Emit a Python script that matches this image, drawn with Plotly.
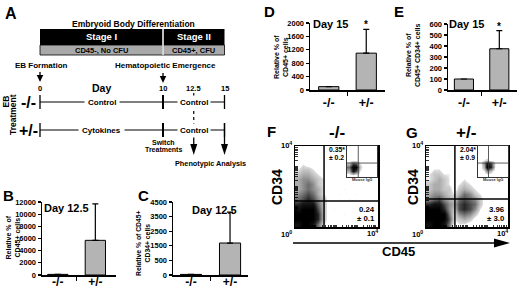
import numpy as np
import plotly.graph_objects as go

W, H = 520, 289
FONT = "Liberation Sans, Arial, sans-serif"


def fx(p):
    return p / W


def fy(p):
    return 1 - p / H


# ---------------- data ----------------
genotypes = ["-/-", "+/-"]

# B: Day 12.5, relative % of CD45+ cells (mean, top of error bar)
b_mean = [100, 5700]
b_top = [None, 11700]
b_ticks = [0, 2000, 4000, 6000, 8000, 10000, 12000]

# C: Day 12.5, relative % of CD45+ CD34+ cells (values on the printed, evenly spaced axis)
c_mean = [40, 2190]
c_top = [None, 4310]
c_tickvals = [0, 1000, 2000, 3000, 4000, 5000]
c_ticktext = ["0", "500", "1500", "2500", "3500", "4500"]

# D: Day 15, relative % of CD45+ cells
d_mean = [100, 1100]
d_top = [None, 1810]
d_ticks = [0, 400, 800, 1200, 1600, 2000]

# E: Day 15, relative % of CD45+ CD34+ cells
e_mean = [100, 375]
e_top = [None, 540]
e_ticks = [0, 100, 200, 300, 400, 500, 600]

# A: timeline
day_marks = [0, 10, 12.5, 15]
day_labels = ["0", "10", "12.5", "15"]
stages = ["Stage I", "Stage II"]
stage_start = [0, 10]
stage_end = [10, 15]
stage_phenotype = ["CD45-, No CFU", "CD45+, CFU"]
treat_rows = ["-/-", "+/-"]
treat_phase1 = ["Control", "Cytokines"]
treat_phase2 = ["Control", "Control"]

# F / G: flow cytometry dot density (CD45 on x, CD34 on y, 0.25-decade cells, top row first)
f_density = [
    "0000000000000000",
    "0000000000000000",
    "0000000000000000",
    "0100000000000000",
    "1221000000000000",
    "2332100000000000",
    "3443210000000000",
    "3454210000000000",
    "3454310001000000",
    "4565310010010000",
    "5676420000100000",
    "7888520000000000",
    "8999620100001000",
    "9999720001000000",
    "9999720000000100",
    "8998510000000000",
]
g_density = [
    "0000000000000000",
    "0000000000000000",
    "0000000000000000",
    "0000000000000000",
    "0110000000000000",
    "1221100000000000",
    "1232100100000000",
    "2332101210000000",
    "2332202321000000",
    "3443213542100000",
    "4564325654200000",
    "7886436765200000",
    "9997426764100000",
    "9999514542000000",
    "9999612320000000",
    "8998501100000000",
]
f_inset_density = [
    "00000000",
    "00000000",
    "00000000",
    "00000000",
    "26510000",
    "59920000",
    "38610000",
    "01000000",
]
g_inset_density = [
    "00000000",
    "00000000",
    "00000000",
    "01200000",
    "04861000",
    "03971000",
    "01420000",
    "00000000",
]
f_quadrant = (1.40, 1.28)
g_quadrant = (1.41, 1.38)
f_pct = ["0.35*", "± 0.2", "0.24", "± 0.1"]
g_pct = ["2.04*", "± 0.9", "3.96", "± 3.0"]

# ---------------- figure ----------------
fig = go.Figure()
layout = dict(
    width=W, height=H, margin=dict(l=0, r=0, t=0, b=0, pad=0), autosize=False,
    paper_bgcolor="white", plot_bgcolor="rgba(0,0,0,0)",
    template="none", showlegend=False,
    font=dict(family=FONT, color="black"),
)
shapes = []
annots = []


def txt(x, y, text, size, xref="paper", yref="paper", color="black", angle=0,
        xanchor="center", yanchor="middle", bg=None, pad=1):
    d = dict(x=x, y=y, xref=xref, yref=yref, text="<b>%s</b>" % text, showarrow=False,
             font=dict(family=FONT, size=size, color=color), textangle=angle,
             xanchor=xanchor, yanchor=yanchor, borderpad=pad)
    if bg:
        d["bgcolor"] = bg
    annots.append(d)


PX_PER_DAY = 12.3


def down_arrow(day, y_tail, y_tip, head_w, head_len, width=1.3):
    """Vertical arrow on the day axis (x in days, y in pixels from top)."""
    hw = head_w / 2 / PX_PER_DAY
    shapes.append(dict(type="line", xref="x", yref="paper", x0=day, x1=day,
                       y0=fy(y_tail), y1=fy(y_tip - head_len + 1), line=dict(color="black", width=width)))
    shapes.append(dict(type="path", xref="x", yref="paper", fillcolor="black", line=dict(width=0),
                       path="M %f,%f L %f,%f L %f,%f Z" % (day - hw, fy(y_tip - head_len), day + hw,
                                                           fy(y_tip - head_len), day, fy(y_tip))))


# ----- Panel A (day axis) -----
layout["xaxis"] = dict(domain=[fx(40 - 3 * PX_PER_DAY), fx(40 + 17 * PX_PER_DAY)], range=[-3, 17],
                       visible=False, fixedrange=True)
layout["yaxis"] = dict(domain=[0, 1], range=[0, 1], visible=False, fixedrange=True)
fig.add_trace(go.Scatter(x=day_marks, y=[None] * 4, xaxis="x", yaxis="y", hoverinfo="skip"))

txt(fx(3), fy(3), "A", 16, xanchor="left", yanchor="top")
txt(fx(133), fy(23.5), "Embryoid Body Differentiation", 8.5)
for s, a, b, ph in zip(stages, stage_start, stage_end, stage_phenotype):
    shapes.append(dict(type="rect", xref="x", yref="paper", x0=a, x1=b, y0=fy(45), y1=fy(29),
                       fillcolor="black", line=dict(width=0)))
    shapes.append(dict(type="rect", xref="x", yref="paper", x0=a, x1=b, y0=fy(55), y1=fy(45),
                       fillcolor="#a9a9a9", line=dict(color="black", width=0.8)))
    txt((a + b) / 2, fy(37), s, 9.5, xref="x", color="white")
    txt((a + b) / 2, fy(50.3), ph, 7.5, xref="x")
shapes.append(dict(type="line", xref="x", yref="paper", x0=stage_end[0], x1=stage_end[0],
                   y0=fy(55), y1=fy(29), line=dict(color="white", width=1.5)))

txt(0.1, fy(65), "EB Formation", 8, xref="x")
txt(10.2, fy(65), "Hematopoietic Emergence", 8, xref="x")
down_arrow(day_marks[0], 72, 82, 6.5, 7)
down_arrow(day_marks[1], 73, 83, 6.5, 7)
for dm, dl in zip(day_marks, day_labels):
    txt(dm, fy(88), dl, 7.5, xref="x")
txt(5, fy(88), "Day", 10.5, xref="x")

row_y = [102, 130]
shapes.append(dict(type="line", xref="x", yref="paper", x0=day_marks[2], x1=day_marks[2],
                   y0=fy(93), y1=fy(128), line=dict(color="black", width=1.2, dash="dot")))
for ry, lab, p1, p2 in zip(row_y, treat_rows, treat_phase1, treat_phase2):
    shapes.append(dict(type="line", xref="x", yref="paper", x0=day_marks[0], x1=day_marks[3],
                       y0=fy(ry), y1=fy(ry), line=dict(color="black", width=1)))
    for dm, wd in [(day_marks[0], 1.3), (day_marks[1], 2), (day_marks[3], 1.3)]:
        shapes.append(dict(type="line", xref="x", yref="paper", x0=dm, x1=dm,
                           y0=fy(ry + 7), y1=fy(ry - 7), line=dict(color="black", width=wd)))
    txt(fx(28), fy(ry), lab, 16)
    txt((day_marks[0] + day_marks[1]) / 2, fy(ry), p1, 8, xref="x", bg="white", pad=3)
    txt((day_marks[1] + day_marks[3]) / 2, fy(ry), p2, 8, xref="x", bg="white", pad=2)

down_arrow(day_marks[2], row_y[1], 155, 7, 11)
down_arrow(day_marks[3], row_y[1] - 7, 155, 7, 11)
txt(fx(5.5), fy(102), "EB", 8.5, angle=-90)
txt(fx(13), fy(115), "Treatment", 8.5, angle=-90)
txt(day_marks[1], fy(142.5), "Switch", 7, xref="x")
txt(day_marks[1], fy(149.5), "Treatments", 7, xref="x")
txt(13.9, fy(163), "Phenotypic Analysis", 7.3, xref="x")


# ----- Bar panels -----
def bar_panel(n, xpx, ypx, xr, yr, tickvals, ticktext, mean, top, title, day, day_xy,
              letter, letter_xy, title_xy, title_size=7, star=False, standoff=0, catsize=12.5):
    xa, ya = "x%d" % n, "y%d" % n
    err = [np.nan if t is None else t - m for m, t in zip(mean, top)]
    fig.add_trace(go.Bar(
        x=[0, 1], y=mean, width=0.54, xaxis=xa, yaxis=ya,
        marker=dict(color="#b4b4b4", line=dict(color="black", width=1)),
        error_y=dict(type="data", symmetric=False, array=err, arrayminus=[0, 0],
                     color="black", thickness=1.2, width=3),
    ))
    layout["xaxis%d" % n] = dict(
        domain=[fx(xpx[0]), fx(xpx[1])], range=xr, anchor=ya, tickvals=[0, 1], ticktext=genotypes,
        showline=True, linecolor="black", linewidth=1.5, ticks="", showgrid=False, zeroline=False,
        tickfont=dict(family=FONT, size=catsize, weight="bold", color="black"), ticklabelstandoff=standoff,
        minor=dict(tickvals=[0.5], ticks="outside", ticklen=4, tickwidth=1.2, tickcolor="black"),
        fixedrange=True)
    layout["yaxis%d" % n] = dict(
        domain=[fy(ypx[1]), fy(ypx[0])], range=yr, anchor=xa, tickvals=tickvals, ticktext=ticktext,
        showline=True, linecolor="black", linewidth=1.5, ticks="outside", ticklen=3, tickwidth=1.2,
        tickcolor="black", showgrid=False, zeroline=False,
        tickfont=dict(family=FONT, size=7.5, weight="bold", color="black"), fixedrange=True)
    txt(fx(title_xy[0]), fy(title_xy[1]), title, title_size, angle=-90)
    txt(fx(day_xy[0]), fy(day_xy[1]), day, 11)
    txt(fx(letter_xy[0]), fy(letter_xy[1]), letter, 15, xanchor="left", yanchor="top")
    if star:
        annots.append(dict(x=1, y=top[1], xref=xa, yref=ya, text="<b>*</b>", showarrow=False,
                           font=dict(family=FONT, size=10, color="black"), yanchor="bottom", yshift=-3))


bar_panel(2, (42, 116), (202, 275), [-0.42, 1.55], [0, 12000], b_ticks, [str(t) for t in b_ticks],
          b_mean, b_top, "Relative % of<br>CD45+ cells", "Day 12.5", (66, 208), "B", (1, 185), (12.5, 238),
          standoff=-5, catsize=12)
bar_panel(3, (173, 248), (202, 275), [-0.46, 1.46], [0, 5000], c_tickvals, c_ticktext,
          c_mean, c_top, "Relative % of CD45+<br>CD34+ cells", "Day 12.5", (214, 210), "C", (136, 185),
          (143, 243), title_size=6.8, standoff=-5, catsize=12)
bar_panel(4, (310, 385), (23, 90), [-0.5, 1.5], [0, 2000], d_ticks, [str(t) for t in d_ticks],
          d_mean, d_top, "Relative % of<br>CD45+ cells", "Day 15", (330, 24), "D", (262, 1), (281, 57),
          star=True)
bar_panel(5, (448, 517), (24, 90), [-0.45, 1.5], [0, 600], e_ticks, [str(t) for t in e_ticks],
          e_mean, e_top, "Relative % of<br>CD45+ CD34+ cells", "Day 15", (466, 24), "E", (392, 1),
          (413, 55), star=True)

# ----- Flow panels -----
dens_cs = [[0, "rgba(255,255,255,0)"], [0.08, "rgba(255,255,255,0)"], [0.13, "#dcdcdc"],
           [0.35, "#a8a8a8"], [0.6, "#606060"], [0.8, "#202020"], [1, "#000000"]]
minor_log = [d + np.log10(k) for d in range(4) for k in range(1, 10)] + [4]


def grid(rows):
    return [[int(c) for c in r] for r in rows[::-1]]


def flow_panel(n, xpx, ypx, dens, quad, pct, title, letter, letter_xy, title_x, cd34_x, right_px):
    xa, ya = "x%d" % n, "y%d" % n
    z = grid(dens)
    centers = [0.125 + 0.25 * i for i in range(16)]
    fig.add_trace(go.Heatmap(z=z, x=centers, y=centers, xaxis=xa, yaxis=ya, colorscale=dens_cs,
                             zmin=0, zmax=9, zsmooth="best", showscale=False, hoverinfo="skip"))
    common = dict(range=[0, 4], showline=True, mirror=True, linecolor="black", linewidth=1.5,
                  showgrid=False, zeroline=False, showticklabels=False, ticks="inside",
                  tickvals=minor_log, ticklen=2.5, tickwidth=0.8, tickcolor="black", fixedrange=True)
    layout["xaxis%d" % n] = dict(domain=[fx(xpx[0]), fx(xpx[1])], anchor=ya, **common)
    layout["yaxis%d" % n] = dict(domain=[fy(ypx[1]), fy(ypx[0])], anchor=xa, **common)
    shapes.append(dict(type="line", xref=xa, yref=ya, x0=quad[0], x1=quad[0], y0=0, y1=4,
                       line=dict(color="black", width=1.5)))
    shapes.append(dict(type="line", xref=xa, yref=ya, x0=0, x1=4, y0=quad[1], y1=quad[1],
                       line=dict(color="black", width=1.5)))
    qx = xpx[0] + (xpx[1] - xpx[0]) * quad[0] / 4 + 3
    txt(fx(qx), fy(149), pct[0], 6.8, xanchor="left")
    txt(fx(qx), fy(157), pct[1], 6.8, xanchor="left")
    txt(fx(right_px), fy(209), pct[2], 7.8, xanchor="right")
    txt(fx(right_px), fy(218.5), pct[3], 7.8, xanchor="right")
    txt(fx(title_x), fy(133), title, 17)
    txt(fx(letter_xy[0]), fy(letter_xy[1]), letter, 15, xanchor="left", yanchor="top")
    txt(fx(cd34_x), fy(187), "CD34", 14, angle=-90)
    txt(fx(xpx[0] - 1), fy(145), "10<sup>4</sup>", 7.5, xanchor="right")
    txt(fx(xpx[0] - 1), fy(234), "10<sup>0</sup>", 7.5, xanchor="right")
    txt(fx(xpx[1] + 2), fy(233), "10<sup>4</sup>", 7.5, xanchor="right")


def inset(n, xpx, ypx, dens, quad):
    xa, ya = "x%d" % n, "y%d" % n
    z = grid(dens)
    centers = [0.25 + 0.5 * i for i in range(8)]
    fig.add_trace(go.Heatmap(z=z, x=centers, y=centers, xaxis=xa, yaxis=ya, colorscale=dens_cs,
                             zmin=0, zmax=9, zsmooth="best", showscale=False, hoverinfo="skip"))
    common = dict(range=[0, 4], showline=True, mirror=True, linecolor="#333333", linewidth=1,
                  showgrid=False, zeroline=False, showticklabels=False, ticks="", fixedrange=True)
    layout["xaxis%d" % n] = dict(domain=[fx(xpx[0]), fx(xpx[1])], anchor=ya, **common)
    layout["yaxis%d" % n] = dict(domain=[fy(ypx[1]), fy(ypx[0])], anchor=xa, **common)
    shapes.append(dict(type="line", xref=xa, yref=ya, x0=quad[0], x1=quad[0], y0=0, y1=4,
                       line=dict(color="#333333", width=0.8)))
    shapes.append(dict(type="line", xref=xa, yref=ya, x0=0, x1=4, y0=quad[1], y1=quad[1],
                       line=dict(color="#333333", width=0.8)))
    txt(fx((xpx[0] + xpx[1]) / 2), fy(ypx[1] + 2.5), "Mouse IgG", 4, color="#333333")


flow_panel(6, (295, 378), (146, 227), f_density, f_quadrant, f_pct, "-/-", "F", (265, 121), 337, 277, 377)
flow_panel(7, (426, 508), (146, 227), g_density, g_quadrant, g_pct, "+/-", "G", (404, 122), 466, 413, 507)
inset(8, (347, 377), (146, 177), f_inset_density, (1.5, 1.8))
inset(9, (478, 508), (146, 177), g_inset_density, (1.4, 1.8))

# CD45 arrow
shapes.append(dict(type="line", xref="paper", yref="paper", x0=fx(293), x1=fx(496), y0=fy(243),
                   y1=fy(243), line=dict(color="black", width=1.3)))
shapes.append(dict(type="path", xref="paper", yref="paper", fillcolor="black", line=dict(width=0),
                   path="M %f,%f L %f,%f L %f,%f Z" % (fx(494), fy(238.5), fx(494), fy(247.5),
                                                       fx(510), fy(243))))
txt(fx(398), fy(251), "CD45", 13)

layout["shapes"] = shapes
layout["annotations"] = annots
fig.update_layout(**layout)
fig.write_html("out.html", config={"displayModeBar": False, "staticPlot": True},
               post_script="document.body.style.margin='0px';document.body.style.padding='0px';"
                           "document.documentElement.style.overflow='hidden';")
